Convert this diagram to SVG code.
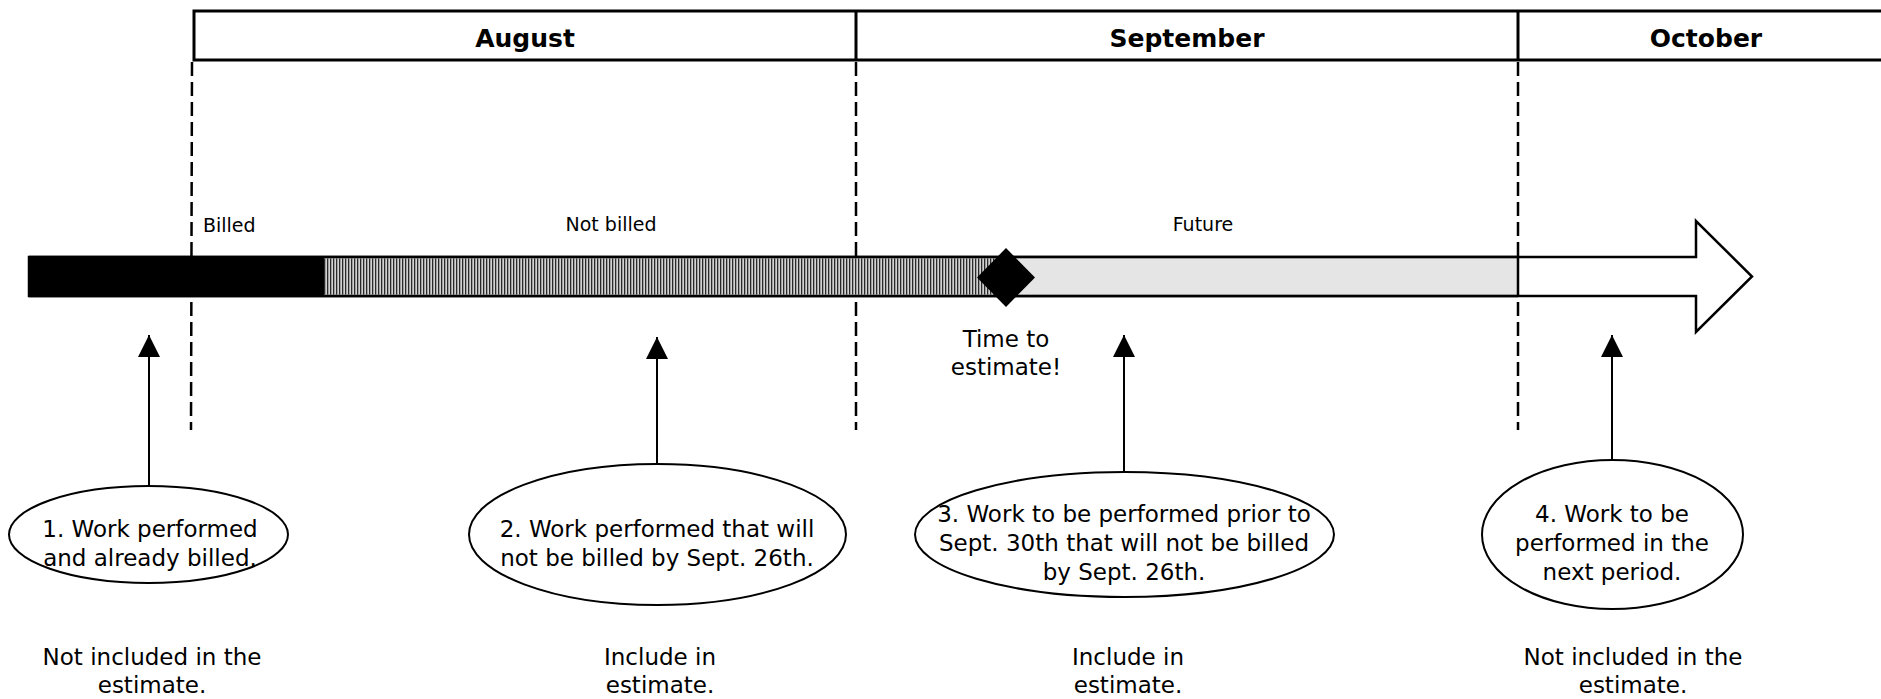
<svg xmlns="http://www.w3.org/2000/svg" width="1881" height="699" viewBox="0 0 1881 699">
<style>
text{font-family:"DejaVu Sans","Liberation Sans",sans-serif;fill:#000}
.m{font-size:25px;font-weight:bold;text-anchor:middle}
.s{font-size:19px}
.t{font-size:23px;text-anchor:middle}
.dash{stroke:#000;stroke-width:2.5;stroke-dasharray:14 6;fill:none}
.ell{fill:#fff;stroke:#000;stroke-width:2}
.conn{stroke:#000;stroke-width:2;fill:none;marker-end:url(#ah)}
</style>
<defs>
<pattern id="hatch" width="3" height="10" patternUnits="userSpaceOnUse">
<rect width="3" height="10" fill="#d2d2d2"/>
<rect width="1.3" height="10" fill="#2a2a2a"/>
</pattern>
<marker id="ah" markerWidth="12" markerHeight="11" refX="11" refY="5.5" orient="auto" markerUnits="strokeWidth">
<path d="M0,0 L11,5.5 L0,11 Z" fill="#000"/>
</marker>
</defs>

<g id="header">
<path d="M1884,11 H194 V60 H1884" fill="none" stroke="#000" stroke-width="3"/>
<line x1="856" y1="11" x2="856" y2="60" stroke="#000" stroke-width="3"/>
<line x1="1518" y1="11" x2="1518" y2="60" stroke="#000" stroke-width="3"/>
<text class="m" x="525" y="47">August</text>
<text class="m" x="1187" y="47">September</text>
<text class="m" x="1706" y="47">October</text>
</g>

<g id="dividers">
<line class="dash" x1="192" y1="62" x2="191" y2="430"/>
<line class="dash" x1="856" y1="62" x2="856" y2="430"/>
<line class="dash" x1="1518" y1="62" x2="1518" y2="430"/>
</g>

<g id="timeline">
<polygon points="29,257 1696,257 1696,221 1752,276.5 1696,332 1696,296 29,296" fill="#fff" stroke="#000" stroke-width="2.5" stroke-linejoin="miter"/>
<rect x="29" y="257" width="295" height="39" fill="#000"/>
<rect x="324" y="258.5" width="682" height="36" fill="url(#hatch)"/>
<rect x="1006" y="258.5" width="512" height="36" fill="#e5e5e5"/>
<line x1="29" y1="257" x2="1518" y2="257" stroke="#000" stroke-width="2.5"/>
<line x1="29" y1="296" x2="1518" y2="296" stroke="#000" stroke-width="2.5"/>
<line x1="1518" y1="257" x2="1518" y2="296" stroke="#000" stroke-width="2.5"/>
<text class="s" x="203" y="232">Billed</text>
<text class="s" x="611" y="231" text-anchor="middle">Not billed</text>
<text class="s" x="1203" y="231" text-anchor="middle">Future</text>
</g>

<g id="milestone">
<polygon points="1006,248 1035,277.5 1006,307 977,277.5" fill="#000"/>
<text class="t" x="1006" y="347">Time to</text>
<text class="t" x="1006" y="375">estimate!</text>
</g>

<g id="connectors">
<line class="conn" x1="149" y1="486" x2="149" y2="335"/>
<line class="conn" x1="657" y1="464" x2="657" y2="337"/>
<line class="conn" x1="1124" y1="472" x2="1124" y2="335"/>
<line class="conn" x1="1612" y1="460" x2="1612" y2="335"/>
</g>

<g id="node1">
<ellipse class="ell" cx="148.5" cy="534.5" rx="139.5" ry="48.5"/>
<text class="t" x="150" y="537">1. Work performed</text>
<text class="t" x="150" y="566">and already billed.</text>
<text class="t" x="152" y="665">Not included in the</text>
<text class="t" x="152" y="693">estimate.</text>
</g>

<g id="node2">
<ellipse class="ell" cx="657.5" cy="534.5" rx="188.5" ry="70.5"/>
<text class="t" x="657" y="537">2. Work performed that will</text>
<text class="t" x="657" y="566">not be billed by Sept. 26th.</text>
<text class="t" x="660" y="665">Include in</text>
<text class="t" x="660" y="693">estimate.</text>
</g>

<g id="node3">
<ellipse class="ell" cx="1124.5" cy="534.5" rx="209.5" ry="62.5"/>
<text class="t" x="1124" y="522">3. Work to be performed prior to</text>
<text class="t" x="1124" y="551">Sept. 30th that will not be billed</text>
<text class="t" x="1124" y="580">by Sept. 26th.</text>
<text class="t" x="1128" y="665">Include in</text>
<text class="t" x="1128" y="693">estimate.</text>
</g>

<g id="node4">
<ellipse class="ell" cx="1612.5" cy="534.5" rx="130.5" ry="74.5"/>
<text class="t" x="1612" y="522">4. Work to be</text>
<text class="t" x="1612" y="551">performed in the</text>
<text class="t" x="1612" y="580">next period.</text>
<text class="t" x="1633" y="665">Not included in the</text>
<text class="t" x="1633" y="693">estimate.</text>
</g>
</svg>
